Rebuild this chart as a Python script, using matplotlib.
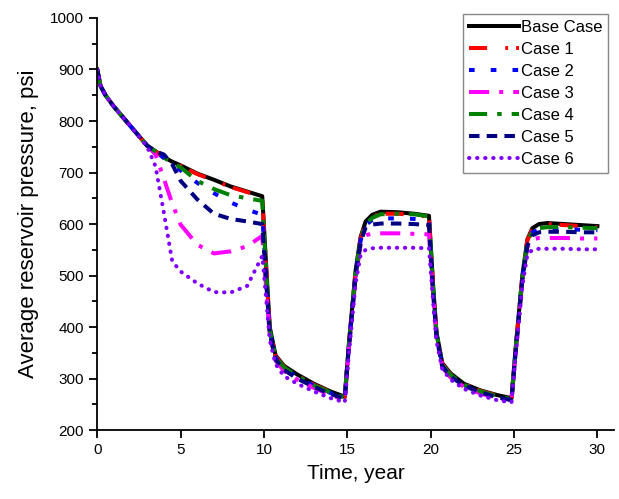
import numpy as np
import matplotlib
matplotlib.use('Agg')
import matplotlib.pyplot as plt
from matplotlib.ticker import MultipleLocator

plt.rcParams['font.family'] = ['Liberation Sans', 'DejaVu Sans']

# shared time axis, years
time_yr = [0, 0.2, 0.5, 1, 2, 3, 3.5, 4, 4.5, 5, 6, 7, 8, 9, 9.9,
           10.15, 10.35, 10.7, 11.2, 12, 13, 14, 14.85,
           15.1, 15.5, 15.8, 16.1, 16.5, 17, 18, 19, 19.9,
           20.15, 20.35, 20.7, 21.2, 22, 23, 24, 24.85,
           25.1, 25.5, 25.8, 26.1, 26.5, 27, 28, 29, 30]

# average reservoir pressure, psi
base_case = [900, 868, 850, 828, 790, 752, 741, 730, 721, 714, 698, 686, 673, 663, 654,
             510, 400, 345, 325, 308, 290, 275, 265,
             370, 510, 575, 605, 618, 624, 623, 620, 616,
             480, 390, 330, 310, 290, 277, 268, 262,
             360, 500, 570, 592, 600, 602, 600, 598, 596]
case_1 = [900, 868, 850, 828, 790, 752, 741, 730, 721, 713, 697, 685, 672, 662, 652,
          505, 398, 343, 323, 306, 288, 274, 264,
          368, 508, 572, 602, 614, 620, 620, 618, 614,
          478, 388, 328, 308, 289, 276, 267, 261,
          358, 498, 568, 590, 598, 600, 598, 596, 594]
case_2 = [900, 868, 850, 828, 790, 752, 741, 728, 716, 704, 680, 660, 642, 628, 618,
          490, 392, 340, 320, 303, 286, 272, 262,
          365, 505, 568, 598, 608, 611, 611, 610, 608,
          470, 385, 326, 306, 287, 274, 265, 259,
          355, 495, 562, 584, 589, 591, 590, 589, 588]
case_3 = [900, 868, 850, 828, 790, 752, 735, 688, 640, 599, 560, 543, 547, 557, 577,
          470, 385, 335, 315, 298, 282, 268, 259,
          360, 495, 560, 578, 582, 582, 582, 581, 580,
          460, 380, 322, 302, 284, 271, 262, 257,
          350, 490, 555, 570, 573, 573, 573, 572, 572]
case_4 = [900, 868, 850, 828, 790, 752, 741, 729, 719, 710, 684, 668, 656, 650, 645,
          500, 395, 342, 322, 305, 287, 273, 263,
          366, 506, 570, 600, 612, 619, 620, 619, 615,
          475, 387, 327, 307, 288, 275, 266, 260,
          356, 496, 565, 586, 592, 594, 594, 593, 592]
case_5 = [900, 868, 850, 828, 790, 752, 741, 735, 716, 684, 648, 620, 610, 605, 600,
          480, 388, 337, 317, 300, 284, 270, 261,
          362, 500, 565, 593, 599, 601, 601, 600, 598,
          465, 382, 324, 304, 286, 273, 264, 258,
          352, 492, 558, 578, 584, 585, 585, 584, 584]
case_6 = [900, 868, 850, 828, 790, 750, 712, 622, 528, 508, 485, 468, 467, 480, 538,
          450, 375, 328, 305, 290, 275, 262, 254,
          350, 485, 540, 550, 553, 554, 554, 554, 553,
          450, 372, 318, 298, 280, 267, 258, 254,
          345, 480, 540, 550, 552, 552, 552, 551, 551]

labels = ['Base Case', 'Case 1', 'Case 2', 'Case 3', 'Case 4', 'Case 5', 'Case 6']
series = [base_case, case_1, case_2, case_3, case_4, case_5, case_6]
colors = ['black', '#ff0000', '#0000ff', '#ff00ff', '#008000', '#000080', '#8000ff']
styles = ['-', (0, (4.5, 4.5, 0.7, 2)), (0, (1.4, 4)), (0, (5, 2.5, 1, 2.5)),
          (0, (4.5, 2.5, 1.1, 2.5)), (0, (2.6, 1.8)), (0, (0.1, 1.9))]

fig = plt.figure(figsize=(6.19, 4.99), dpi=100)
ax = fig.add_axes([0.157, 0.138, 0.835, 0.826])

for vals, lab, col, ls in zip(series, labels, colors, styles):
    cap = 'round' if lab == 'Case 6' else 'butt'
    ax.plot(time_yr, vals, color=col, linestyle=ls, linewidth=2.9,
            dash_capstyle=cap, label=lab)

ax.set_xlim(0, 31)
ax.set_ylim(200, 1000)
ax.xaxis.set_major_locator(MultipleLocator(5))
ax.yaxis.set_major_locator(MultipleLocator(100))
ax.yaxis.set_minor_locator(MultipleLocator(50))
ax.spines['top'].set_visible(False)
ax.spines['right'].set_visible(False)
for s in ('left', 'bottom'):
    ax.spines[s].set_linewidth(1.3)
ax.tick_params(which='both', direction='out', width=1.3, labelsize=11)
ax.tick_params(which='major', length=6)
ax.tick_params(which='minor', length=3.5)

ax.set_xlabel('Time, year', fontsize=15, labelpad=5)
ax.set_ylabel('Average reservoir pressure, psi', fontsize=16, labelpad=8)

leg = ax.legend(loc='upper right', bbox_to_anchor=(0.988, 1.01), borderaxespad=0,
                fontsize=12, handlelength=3, labelspacing=0.42, handletextpad=0.1,
                borderpad=0.35, fancybox=False, framealpha=1)
leg.get_frame().set_edgecolor('#888888')
leg.get_frame().set_linewidth(1.0)

fig.savefig('out.png', dpi=100)
